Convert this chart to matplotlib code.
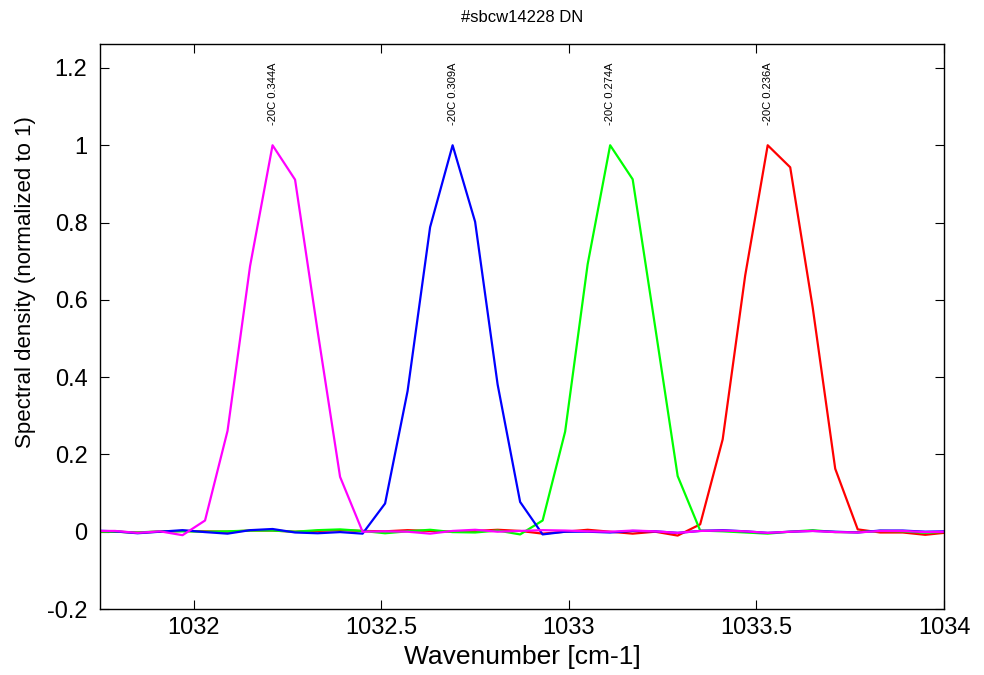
import matplotlib
matplotlib.use("Agg")
import matplotlib.pyplot as plt

wavenumber = [1031.73, 1031.79, 1031.85, 1031.91, 1031.97, 1032.03, 1032.09, 1032.15,
              1032.21, 1032.27, 1032.33, 1032.39, 1032.45, 1032.51, 1032.57, 1032.63,
              1032.69, 1032.75, 1032.81, 1032.87, 1032.93, 1032.99, 1033.05, 1033.11,
              1033.17, 1033.23, 1033.29, 1033.35, 1033.41, 1033.47, 1033.53, 1033.59,
              1033.65, 1033.71, 1033.77, 1033.83, 1033.89, 1033.95, 1034.01]

magenta_344 = [0.002, 0.002, -0.003, 0.001, -0.009, 0.029, 0.261, 0.687,
               1.0, 0.911, 0.52, 0.142, 0.0, 0.001, 0.0, -0.005,
               0.002, 0.005, 0.0, 0.002, 0.004, 0.003, 0.001, 0.0,
               0.003, 0.001, -0.003, 0.002, 0.003, 0.001, -0.003, 0.0,
               0.002, -0.001, -0.002, 0.002, 0.002, -0.001, 0.0]

blue_309 = [0.003, 0.001, -0.004, 0.0, 0.004, -0.001, -0.005, 0.004,
            0.007, -0.002, -0.004, -0.001, -0.005, 0.073, 0.364, 0.788,
            1.0, 0.802, 0.381, 0.077, -0.007, 0.0, 0.0, -0.002,
            0.002, 0.001, -0.003, 0.002, 0.004, 0.001, -0.003, 0.0,
            0.002, 0.0, -0.002, 0.003, 0.003, 0.0, 0.001]

green_274 = [0.0, 0.0, -0.002, 0.001, 0.001, 0.0, 0.001, 0.003,
             0.003, 0.0, 0.004, 0.006, 0.002, -0.004, 0.001, 0.005,
             -0.001, -0.002, 0.003, -0.007, 0.029, 0.259, 0.692, 1.0,
             0.912, 0.53, 0.144, 0.003, 0.001, -0.002, -0.005, 0.0,
             0.004, -0.001, -0.001, 0.002, 0.001, -0.003, 0.0]

red_236 = [0.0, 0.0, -0.002, 0.0, 0.002, 0.001, 0.0, 0.003,
           0.003, 0.0, 0.002, 0.004, 0.002, 0.001, 0.004, 0.002,
           0.0, 0.002, 0.005, 0.002, -0.005, 0.0, 0.005, 0.0,
           -0.005, 0.0, -0.01, 0.019, 0.239, 0.663, 1.0, 0.943,
           0.58, 0.163, 0.006, -0.002, -0.002, -0.008, -0.002]

series = [
    ("-20C 0.236A", red_236, "#ff0000"),
    ("-20C 0.274A", green_274, "#00ff00"),
    ("-20C 0.309A", blue_309, "#0000ff"),
    ("-20C 0.344A", magenta_344, "#ff00ff"),
]

normal = ["Liberation Sans", "DejaVu Sans"]

fig = plt.figure(figsize=(9.84, 6.75), dpi=100)
ax = fig.add_axes([100 / 984, 66 / 675, 844 / 984, 565 / 675])

for label, vals, color in series:
    ax.plot(wavenumber, vals, color=color, lw=1.6)
    imax = vals.index(max(vals))
    ax.text(wavenumber[imax], 1.052, label, rotation=90, ha="center", va="bottom",
            fontsize=8, family=normal)

ax.set_xlim(1031.75, 1034)
ax.set_ylim(-0.2, 1.262)
ax.set_xticks([1032, 1032.5, 1033, 1033.5, 1034])
ax.set_xticklabels(["1032", "1032.5", "1033", "1033.5", "1034"])
ax.set_yticks([-0.2, 0, 0.2, 0.4, 0.6, 0.8, 1.0, 1.2])
ax.set_yticklabels(["-0.2", "0", "0.2", "0.4", "0.6", "0.8", "1", "1.2"])

ax.tick_params(direction="in", top=True, right=True, length=6.5, width=0.8)
ax.tick_params(axis="y", pad=9)
ax.tick_params(axis="x", pad=6)
for t in ax.get_yticklabels():
    t.set_family(normal)
    t.set_fontsize(17)
for t in ax.get_xticklabels():
    t.set_family(normal)
    t.set_fontsize(17)
for s in ax.spines.values():
    s.set_linewidth(1.0)

ax.set_xlabel("Wavenumber [cm-1]", family=normal, fontsize=19)
ax.xaxis.set_label_coords(0.5, -(657 - 609) / 565, transform=ax.transAxes)
ax.xaxis.label.set_va("center")
ax.set_ylabel("Spectral density (normalized to 1)", family=normal, fontsize=16)
ax.yaxis.set_label_coords(-(100 - 25) / 844, (609 - 282) / 565, transform=ax.transAxes)
ax.yaxis.label.set_va("center")
fig.text(522 / 984, 1 - 18 / 675, "#sbcw14228 DN", ha="center", va="center",
         family=normal, fontsize=12)

fig.savefig("out.png", dpi=100)
